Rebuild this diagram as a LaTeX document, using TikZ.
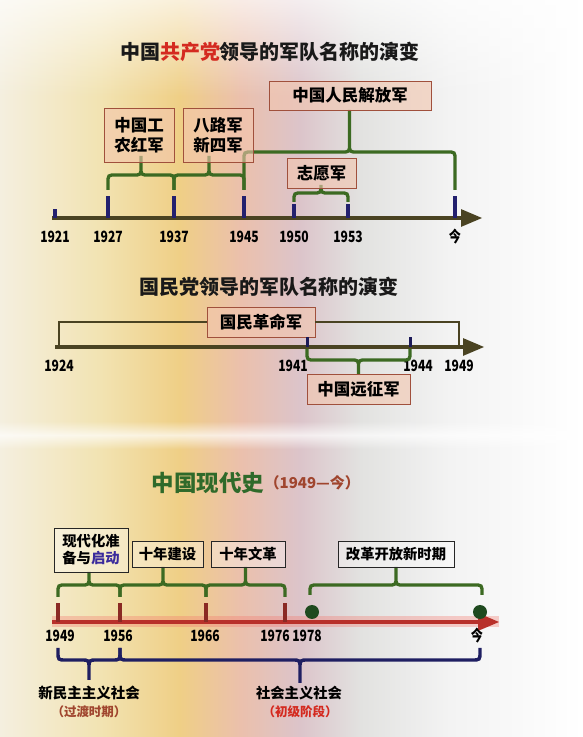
\documentclass[tikz,border=0pt]{standalone}
\usepackage{fontspec}
\setmainfont{Noto Sans CJK SC}
\newfontfamily\numfont{Noto Sans CJK SC}[FakeStretch=0.78]
\usepackage{tikz}
\usetikzlibrary{calc}
\usetikzlibrary{arrows}
\usetikzlibrary{fadings}

\definecolor{paperA}{HTML}{F4EFDF}
\definecolor{paperB}{HTML}{F2E3B2}
\definecolor{paperC}{HTML}{EFCF86}
\definecolor{paperD}{HTML}{EBC0AC}
\definecolor{paperE}{HTML}{DCC4CA}
\definecolor{paperF}{HTML}{E2E2E0}
\definecolor{paperG}{HTML}{F3F3F3}
\definecolor{axisolive}{HTML}{4A4322}
\definecolor{tickblue}{HTML}{23206E}
\definecolor{bracegreen}{HTML}{3C6A22}
\definecolor{boxfill}{HTML}{F3C6AE}
\definecolor{boxline}{HTML}{A0503C}
\definecolor{redaxis}{HTML}{B8302A}
\definecolor{redglow}{HTML}{F47A70}
\definecolor{tickred}{HTML}{8A2A24}
\definecolor{dotgreen}{HTML}{1F4A1F}
\definecolor{bluebrace}{HTML}{1F1F62}
\definecolor{titlegreen}{HTML}{2F6A2A}
\definecolor{parenbrown}{HTML}{A0452E}
\definecolor{titlered}{HTML}{D42A20}
\definecolor{startblue}{HTML}{3A2A9C}

\pgfdeclarehorizontalshading{paper}{100bp}{color(0bp)=(paperA); color(25bp)=(paperA); color(33.6bp)=(paperB); color(40.4bp)=(paperC); color(45.6bp)=(paperD); color(50.7bp)=(paperE); color(55.9bp)=(paperF); color(63.6bp)=(paperG); color(75bp)=(white); color(100bp)=(white)}

\newcommand{\tlbrace}[5][]{%
 \draw[#1] let \p1=(#2), \p2=(#3), \n1={(\x1+\x2)/2}, \n2={ifthenelse(#4>0,8,-8)},
   \n3={\y1+(#4)}, \n4={\y1+(#4)-(\n2)}, \n5={\y1+(#4)+(\n2)}, \n6={\y1+(#5)} in
   (\p1) -- (\x1,\n4) .. controls (\x1,\n3) .. (\x1+8,\n3)
   -- (\n1-8,\n3) .. controls (\n1,\n3) .. (\n1,\n5) -- (\n1,\n6)
   (\n1,\n5) .. controls (\n1,\n3) .. (\n1+8,\n3)
   -- (\x2-8,\n3) .. controls (\x2,\n3) .. (\x2,\n4) -- (\p2);
}

\begin{document}
\begin{tikzpicture}[x=1pt,y=1pt,
  yearlbl/.style={font=\numfont\bfseries\fontsize{15.5}{15}\selectfont, inner sep=0},
  redbox/.style={draw=boxline, line width=.9pt, fill=boxfill, fill opacity=.6, text opacity=1, inner sep=0, align=center, font=\bfseries\fontsize{16.5}{20}\selectfont},
  blackbox/.style={draw=black!85, line width=.9pt, fill=white, fill opacity=.35, text opacity=1, inner sep=0, align=center, font=\bfseries\fontsize{14.3}{17}\selectfont},
  gbrace/.style={draw=bracegreen, line width=3.3pt},
  bbrace/.style={draw=bluebrace, line width=3.4pt},
  axisA/.style={draw=axisolive, line width=4pt, ->, >=triangle 45},
  tickA/.style={draw=tickblue, line width=3.5pt},
  bigtitle/.style={font=\bfseries\fontsize{20}{20}\selectfont, inner sep=0, text=black!90}]
\useasboundingbox (0,0) rectangle (583,737);
\fill[shading=paper] (0,0) rectangle (583,737);
\fill[white, path fading=south, opacity=.7] (0,640) rectangle (583,737);
\fill[white, path fading=north, opacity=.7] (0,302) rectangle (583,316);
\fill[white, path fading=south, opacity=.7] (0,288) rectangle (583,302);

% army names, communist party
\node[bigtitle] (title1) at (270,685) {中国\textcolor{titlered}{共产党}领导的军队名称的演变};
\coordinate (A1s) at (52,519);
\coordinate (A1e) at (482,519);
\draw[axisA] (A1s) -- (A1e);
\foreach \n/\yr/\x/\h/\b in {1921/1921/55/9/547, 1927/1927/108/22/547, 1937/1937/174/22/547, 1945/1945/244/22/547, 1950/1950/294/14/535, 1953/1953/348/14/535, now/今/455/22/547} {
 \coordinate (a\n) at (\x,519);
 \coordinate (t\n) at (\x,519+\h);
 \coordinate (g\n) at (\x,\b);
 \draw[tickA] (a\n) -- (t\n);
 \node[yearlbl] (y\n) at (\x,500) {\yr};
}
\tlbrace[gbrace]{g1927}{g1937}{15}{34}
\tlbrace[gbrace]{g1937}{g1945}{15}{34}
\tlbrace[gbrace]{g1945}{gnow}{38}{80}
\tlbrace[gbrace]{g1950}{g1953}{9}{14}
\node[redbox, minimum width=70, minimum height=54] (hongjun) at (139,602) {中国工\\农红军};
\node[redbox, minimum width=70, minimum height=54] (balujun) at (218,602) {八路军\\新四军};
\node[redbox, minimum width=162, minimum height=29] (jiefangjun) at (350,641.5) {中国人民解放军};
\node[redbox, minimum width=69, minimum height=30] (zhiyuanjun) at (321.5,564) {志愿军};

% army names, kuomintang
\node[bigtitle] (title2) at (269,450) {国民党领导的军队名称的演变};
\coordinate (B1s) at (55,390);
\coordinate (B1e) at (484,390);
\draw[axisA] (B1s) -- (B1e);
\node[redbox, minimum width=108, minimum height=30] (geming) at (261,415) {国民革命军};
\coordinate (a1924) at (59,390);
\coordinate (a1949) at (459,390);
\draw[draw=axisolive, line width=2pt] (a1924) |- (geming.west);
\draw[draw=axisolive, line width=2pt] (geming.east) -| (a1949);
\foreach \n/\x/\lx in {1941/307/293, 1944/410/418} {
 \coordinate (a\n) at (\x,390);
 \coordinate (t\n) at (\x,400);
 \coordinate (c\n) at (\x,388);
 \draw[draw=tickblue!80!black, line width=3pt] (a\n) -- (t\n);
 \node[yearlbl] (y\n) at (\lx,371) {\n};
}
\node[yearlbl] (y1924) at (59,371) {1924};
\node[yearlbl] (y1949b) at (459,371) {1949};
\tlbrace[gbrace]{c1941}{c1944}{-11}{-26}
\node[redbox, minimum width=103, minimum height=30] (yuanzheng) at (358.5,348) {中国远征军};

% modern history
\node[bigtitle, font=\bfseries\fontsize{22.5}{22}\selectfont, text=titlegreen] (title3) at (208,254) {中国现代史};
\node[anchor=west, inner sep=0, text=parenbrown, font=\bfseries\fontsize{15}{15}\selectfont] (title3b) at (title3.east) {（1949—今）};
\coordinate (C1s) at (52,115);
\coordinate (C1e) at (499,115);
\draw[draw=redglow, line width=11pt, opacity=.35] (C1s) -- (C1e);
\draw[draw=redaxis, line width=4pt, ->, >=triangle 45] (C1s) -- (C1e);
\foreach \n/\x in {1949/58, 1956/120, 1966/206, 1976/285} {
 \coordinate (a\n) at (\x,115);
 \coordinate (t\n) at (\x,134);
 \coordinate (e\n) at (\x,140);
 \coordinate (u\n) at (\x,89);
 \draw[draw=tickred, line width=4pt] (a\n) -- (t\n);
}
\node[circle, fill=dotgreen, minimum size=14, inner sep=0] (d1978) at (312,125) {};
\node[circle, fill=dotgreen, minimum size=14, inner sep=0] (dnow) at (480,125) {};
\coordinate (e1978) at (310,142);
\coordinate (enow) at (482,142);
\coordinate (unow) at (480,89);
\foreach \n/\yr/\x in {1949/1949/60, 1956/1956/118, 1966/1966/205, 1976/1976/275, 1978/1978/307, now3/今/477} {
 \node[yearlbl] (z\n) at (\x,101) {\yr};
}
\tlbrace[gbrace]{e1949}{e1956}{12}{25}
\tlbrace[gbrace]{e1956}{e1966}{12}{30}
\tlbrace[gbrace]{e1966}{e1976}{12}{30}
\tlbrace[gbrace]{e1978}{enow}{10}{28}
\tlbrace[bbrace]{u1949}{u1956}{-12}{-32}
\tlbrace[bbrace]{u1956}{unow}{-12}{-35}
\node[blackbox, minimum width=74, minimum height=44] (qidong) at (91,187) {现代化准\\备与\textcolor{startblue}{启动}};
\node[blackbox, minimum width=71, minimum height=26] (jianshe) at (167.5,183) {十年建设};
\node[blackbox, minimum width=74, minimum height=26] (wenge) at (248,183) {十年文革};
\node[blackbox, minimum width=116, minimum height=26] (gaige) at (396,183) {改革开放新时期};
\node[inner sep=0, font=\bfseries\fontsize{14.5}{15}\selectfont] (xinmin) at (89,44) {新民主主义社会};
\node[inner sep=0, text=parenbrown, font=\bfseries\fontsize{12.5}{13}\selectfont] (guodu) at (89,25) {（过渡时期）};
\node[inner sep=0, font=\bfseries\fontsize{14.3}{15}\selectfont] (shehui) at (299,44) {社会主义社会};
\node[inner sep=0, text=titlered, font=\bfseries\fontsize{12.5}{13}\selectfont] (chuji) at (300,25) {（初级阶段）};
\end{tikzpicture}
\end{document}
